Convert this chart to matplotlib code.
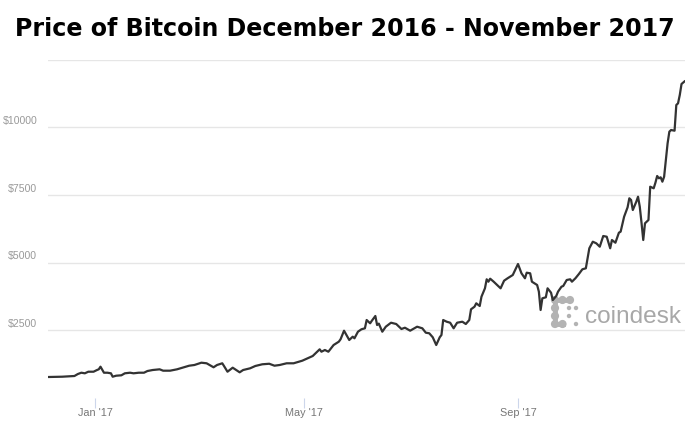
import matplotlib
matplotlib.use("Agg")
import matplotlib.pyplot as plt
import matplotlib.patches as mpatches
import pandas as pd

# ---------------- data ----------------
dates = [
    "2016-12-05", "2016-12-13", "2016-12-20", "2016-12-22", "2016-12-24", "2016-12-26",
    "2016-12-28", "2016-12-31", "2017-01-02", "2017-01-03", "2017-01-04", "2017-01-06",
    "2017-01-08", "2017-01-10", "2017-01-11", "2017-01-13", "2017-01-16", "2017-01-18",
    "2017-01-21", "2017-01-23", "2017-01-26", "2017-01-29", "2017-01-31", "2017-02-03",
    "2017-02-07", "2017-02-09", "2017-02-13", "2017-02-17", "2017-02-21", "2017-02-24",
    "2017-02-27", "2017-03-03", "2017-03-06", "2017-03-10", "2017-03-12", "2017-03-15",
    "2017-03-16", "2017-03-18", "2017-03-21", "2017-03-23", "2017-03-25", "2017-03-27",
    "2017-03-31", "2017-04-03", "2017-04-07", "2017-04-11", "2017-04-14", "2017-04-17",
    "2017-04-21", "2017-04-25", "2017-04-28", "2017-04-30", "2017-05-03", "2017-05-06",
    "2017-05-08", "2017-05-10", "2017-05-11", "2017-05-13", "2017-05-15", "2017-05-18",
    "2017-05-21", "2017-05-22", "2017-05-24", "2017-05-27", "2017-05-29", "2017-05-30",
    "2017-06-01", "2017-06-03", "2017-06-05", "2017-06-06", "2017-06-08", "2017-06-09",
    "2017-06-11", "2017-06-12", "2017-06-13", "2017-06-15", "2017-06-17", "2017-06-20",
    "2017-06-23", "2017-06-26", "2017-06-28", "2017-07-01", "2017-07-05", "2017-07-08",
    "2017-07-10", "2017-07-12", "2017-07-14", "2017-07-16", "2017-07-18", "2017-07-19",
    "2017-07-20", "2017-07-22", "2017-07-24", "2017-07-26", "2017-07-28", "2017-07-31",
    "2017-08-02", "2017-08-04", "2017-08-05", "2017-08-07", "2017-08-08", "2017-08-10",
    "2017-08-11", "2017-08-13", "2017-08-14", "2017-08-15", "2017-08-16", "2017-08-18",
    "2017-08-20", "2017-08-22", "2017-08-24", "2017-08-26", "2017-08-29", "2017-09-01",
    "2017-09-03", "2017-09-05", "2017-09-06", "2017-09-08", "2017-09-09", "2017-09-12",
    "2017-09-13", "2017-09-14", "2017-09-15", "2017-09-17", "2017-09-18", "2017-09-20",
    "2017-09-21", "2017-09-23", "2017-09-24", "2017-09-26", "2017-09-27", "2017-09-29",
    "2017-10-01", "2017-10-02", "2017-10-04", "2017-10-06", "2017-10-08", "2017-10-10",
    "2017-10-11", "2017-10-12", "2017-10-14", "2017-10-16", "2017-10-18", "2017-10-20",
    "2017-10-22", "2017-10-24", "2017-10-25", "2017-10-27", "2017-10-29", "2017-10-30",
    "2017-11-01", "2017-11-03", "2017-11-04", "2017-11-05", "2017-11-06", "2017-11-08",
    "2017-11-09", "2017-11-10", "2017-11-11", "2017-11-12", "2017-11-13", "2017-11-15",
    "2017-11-16", "2017-11-18", "2017-11-19", "2017-11-20", "2017-11-21", "2017-11-22",
    "2017-11-23", "2017-11-24", "2017-11-25", "2017-11-26", "2017-11-27", "2017-11-28",
    "2017-11-30", "2017-12-01", "2017-12-02", "2017-12-03", "2017-12-04", "2017-12-06",
]
prices = [
    759, 770, 796, 870, 918, 896,
    955, 955, 1018, 1044, 1141, 918,
    918, 896, 770, 807, 822, 896,
    918, 896, 918, 918, 981, 1018,
    1044, 993, 993, 1044, 1119, 1178,
    1204, 1289, 1267, 1119, 1204, 1267,
    1167, 955, 1104, 1018, 933, 1018,
    1081, 1167, 1230, 1250, 1178, 1204,
    1267, 1267, 1326, 1363, 1452, 1537,
    1659, 1785, 1696, 1759, 1696, 1944,
    2067, 2156, 2474, 2130, 2252, 2193,
    2437, 2526, 2563, 2870, 2748, 2844,
    3019, 2685, 2735, 2437, 2622, 2770,
    2722, 2537, 2585, 2474, 2622, 2563,
    2400, 2378, 2230, 1944, 2230, 2315,
    2870, 2807, 2770, 2563, 2770, 2807,
    2722, 2870, 3267, 3363, 3489, 3389,
    3733, 4044, 4378, 4289, 4400, 4290,
    4167, 4044, 4326, 4415, 4537, 4944,
    4600, 4415, 4622, 4600, 4289, 4167,
    3919, 3241, 3674, 3711, 4044, 3881,
    3611, 3759, 3919, 4104, 4130, 4352,
    4378, 4289, 4415, 4574, 4748, 4785,
    5156, 5526, 5770, 5711, 5585, 5981,
    5955, 5526, 5833, 5733, 6104, 6141,
    6696, 7044, 7378, 7315, 6944, 7252,
    7437, 7067, 6474, 5833, 6452, 6574,
    7807, 7748, 7956, 8204, 8119, 8156,
    7993, 8178, 8796, 9415, 9844, 9907,
    9881, 10833, 10896, 11204, 11611, 11722,
]
tick_dates = ["2017-01-01", "2017-05-01", "2017-09-01"]
tick_labels = ["Jan '17", "May '17", "Sep '17"]
grid_values = [2500, 5000, 7500, 10000, 12500]
grid_labels = ["$2500", "$5000", "$7500", "$10000", ""]
title = "Price of Bitcoin December 2016 - November 2017"

# ---------------- figure ----------------
W, H = 689, 430
fig = plt.figure(figsize=(W / 100, H / 100), dpi=100)
left_px, right_px, top_px, bottom_px = 48.3, 685.0, 60.0, 397.5
ax = fig.add_axes([left_px / W, 1 - bottom_px / H,
                   (right_px - left_px) / W, (bottom_px - top_px) / H])

x = pd.to_datetime(dates)
ax.plot(x, prices, color="#333333", lw=1.6, solid_joinstyle="round",
        solid_capstyle="round", zorder=3)

ax.set_xlim(x[0], x[-1])
ax.set_ylim(0, grid_values[-1])
for s in ax.spines.values():
    s.set_visible(False)

ax.set_yticks(grid_values)
ax.set_yticklabels([])
ax.tick_params(axis="y", length=0)
ax.grid(axis="y", color="#e6e6e6", lw=1.0)
ax.set_axisbelow(True)

for v, lab in zip(grid_values, grid_labels):
    ax.annotate(lab, xy=(0, v), xycoords=("axes fraction", "data"),
                xytext=(-11, 6), textcoords="offset pixels",
                ha="right", va="center", fontsize=7.6, color="#999999",
                family="Liberation Sans", parse_math=False)

ax.set_xticks(pd.to_datetime(tick_dates))
ax.set_xticklabels(tick_labels)
ax.tick_params(axis="x", length=7.2, width=0.8, color="#ccd6eb",
               labelcolor="#777777", labelsize=7.8, pad=0.5)
for lab in ax.get_xticklabels():
    lab.set_family("Liberation Sans")

fig.text(0.5, 1 - 29 / H, title, ha="center", va="center",
         fontsize=17.1, fontweight="bold", family="DejaVu Sans", color="#000000")

# ---------------- coindesk watermark (under the line) ----------------
wm_color = "#b3b3b3"
ax.text(585 / W, 1 - 322.7 / H, "coindesk", transform=fig.transFigure,
        ha="left", va="baseline", fontsize=17.6, color="#a8a8a8",
        family="Liberation Sans", zorder=1)

def px(xp, yp):
    return (xp / 100, (H - yp) / 100)

big = [(555, 300), (562.5, 300), (570, 300), (555, 308), (555, 316),
       (555, 324), (562.5, 324)]
small = [(569, 308), (576, 308), (569, 316), (576, 324)]
for (a, b) in [((555, 300), (570, 300)), ((555, 300), (555, 324)),
               ((555, 324), (562.5, 324))]:
    ax.add_line(plt.Line2D([px(*a)[0], px(*b)[0]], [px(*a)[1], px(*b)[1]],
                           transform=fig.dpi_scale_trans, color=wm_color,
                           lw=3.5, clip_on=False, zorder=1))
for c in big:
    ax.add_patch(mpatches.Circle(px(*c), 0.034, transform=fig.dpi_scale_trans,
                                 color=wm_color, clip_on=False, zorder=1))
for c in small:
    ax.add_patch(mpatches.Circle(px(*c), 0.015, transform=fig.dpi_scale_trans,
                                 color=wm_color, clip_on=False, zorder=1))

fig.savefig("out.png", dpi=100)
